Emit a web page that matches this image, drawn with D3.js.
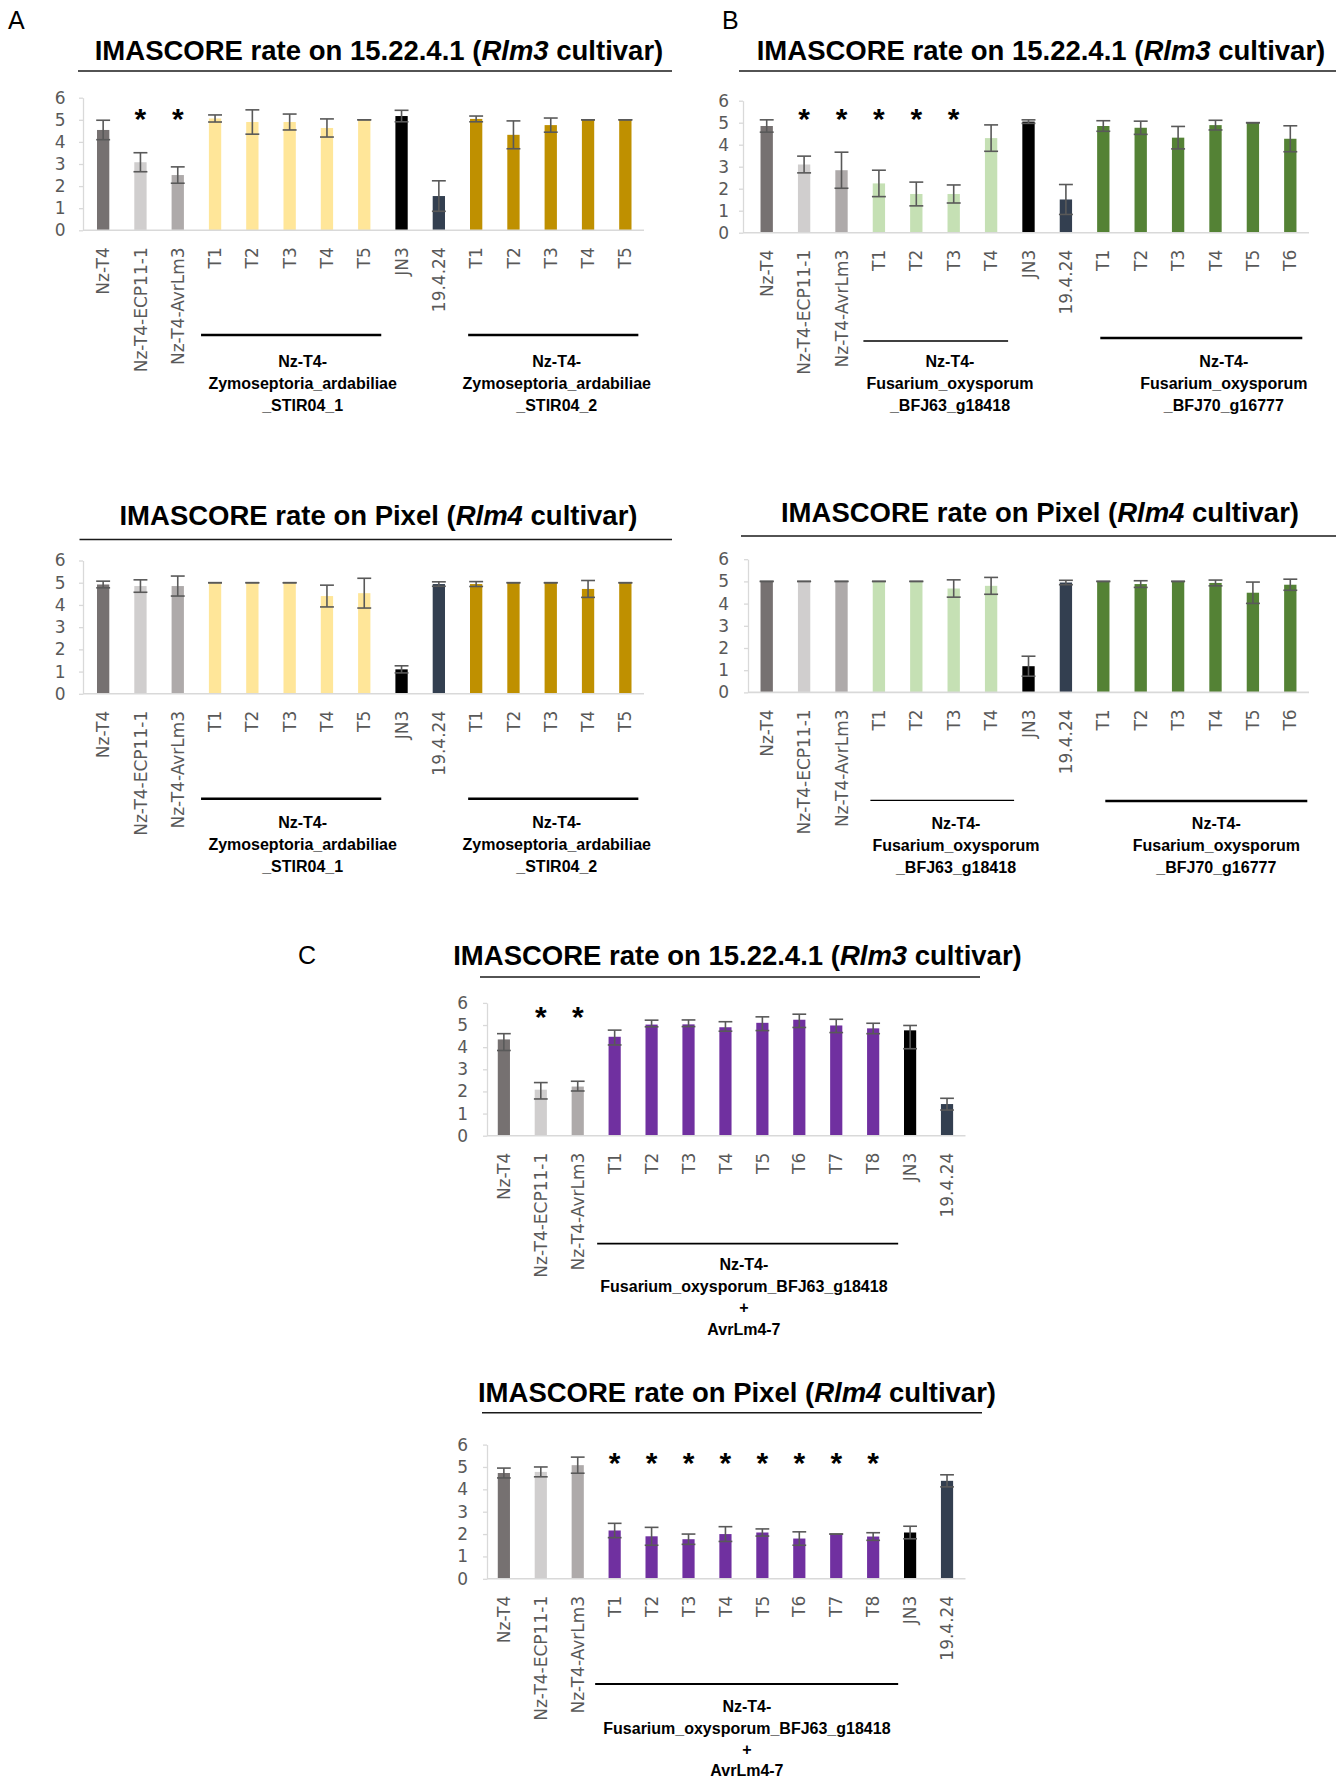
<!DOCTYPE html>
<html lang="en">
<head>
<meta charset="UTF-8">
<title>IMASCORE rates</title>
<script src="https://cdn.jsdelivr.net/npm/d3@7"></script>
<style>
    body{ margin:0; background:white; }
    svg text{ font-family:"DejaVu Sans", sans-serif; }
</style>
</head>
<body>
<svg id="fig"></svg>
<script>
const w = 1336, h = 1781;

// ---- categories ----
const catZ = ["Nz-T4","Nz-T4-ECP11-1","Nz-T4-AvrLm3","T1","T2","T3","T4","T5","JN3","19.4.24","T1","T2","T3","T4","T5"];
const kindZ = ["nz","ecp","avr","zym1","zym1","zym1","zym1","zym1","jn3","ref","zym2","zym2","zym2","zym2","zym2"];
const catF = ["Nz-T4","Nz-T4-ECP11-1","Nz-T4-AvrLm3","T1","T2","T3","T4","JN3","19.4.24","T1","T2","T3","T4","T5","T6"];
const kindF = ["nz","ecp","avr","fus1","fus1","fus1","fus1","jn3","ref","fus2","fus2","fus2","fus2","fus2","fus2"];
const catC = ["Nz-T4","Nz-T4-ECP11-1","Nz-T4-AvrLm3","T1","T2","T3","T4","T5","T6","T7","T8","JN3","19.4.24"];
const kindC = ["nz","ecp","avr","fusAvr","fusAvr","fusAvr","fusAvr","fusAvr","fusAvr","fusAvr","fusAvr","jn3","ref"];

// ---- A : Zymoseptoria ----
const valZ3 = [4.54, 3.08, 2.50, 5.06, 4.90, 4.90, 4.63, 5.00, 5.17, 1.55, 5.04, 4.32, 4.76, 5.00, 5.00];
const errZ3 = [0.44, 0.43, 0.37, 0.16, 0.55, 0.36, 0.41, 0.00, 0.26, 0.69, 0.13, 0.63, 0.32, 0.00, 0.00];
const sigZ3 = [0,1,1,0,0,0,0,0,0,0,0,0,0,0,0];
const valZ4 = [4.92, 4.85, 4.85, 5.00, 5.00, 5.00, 4.40, 4.53, 1.10, 4.94, 4.94, 5.00, 5.00, 4.72, 5.00];
const errZ4 = [0.15, 0.28, 0.45, 0.00, 0.00, 0.00, 0.49, 0.67, 0.16, 0.10, 0.11, 0.00, 0.00, 0.38, 0.00];
const sigZ4 = [0,0,0,0,0,0,0,0,0,0,0,0,0,0,0];

// ---- B : Fusarium ----
const valF3 = [4.85, 3.10, 2.84, 2.24, 1.76, 1.76, 4.30, 5.05, 1.51, 4.85, 4.77, 4.32, 4.89, 5.00, 4.27];
const errF3 = [0.28, 0.38, 0.82, 0.60, 0.54, 0.41, 0.60, 0.08, 0.68, 0.24, 0.30, 0.51, 0.22, 0.00, 0.59];
const sigF3 = [0,1,1,1,1,1,0,0,0,0,0,0,0,0,0];
const valF4 = [5.00, 5.00, 5.00, 5.00, 5.00, 4.68, 4.80, 1.18, 4.95, 5.00, 4.88, 5.00, 4.93, 4.49, 4.85];
const errF4 = [0.00, 0.00, 0.00, 0.00, 0.00, 0.39, 0.38, 0.45, 0.10, 0.00, 0.15, 0.00, 0.13, 0.48, 0.25];
const sigF4 = [0,0,0,0,0,0,0,0,0,0,0,0,0,0,0];

// ---- C : Fusarium + AvrLm4-7 ----
const valC3 = [4.35, 2.08, 2.22, 4.47, 5.02, 5.03, 4.90, 5.10, 5.24, 4.98, 4.85, 4.76, 1.43];
const errC3 = [0.26, 0.32, 0.24, 0.30, 0.20, 0.20, 0.25, 0.27, 0.25, 0.28, 0.23, 0.22, 0.26];
const errLoC3 = [0.50, 0.42, 0.20, 0.37, 0.10, 0.10, 0.18, 0.35, 0.35, 0.32, 0.24, 0.83, 0.27];
const sigC3 = [0,1,1,0,0,0,0,0,0,0,0,0,0];
const valC4 = [4.73, 4.78, 5.08, 2.16, 1.90, 1.77, 2.00, 2.07, 1.80, 2.00, 1.89, 2.07, 4.38];
const errC4 = [0.22, 0.22, 0.36, 0.32, 0.40, 0.23, 0.33, 0.16, 0.30, 0.00, 0.17, 0.28, 0.27];
const sigC4 = [0,0,0,1,1,1,1,1,1,1,1,0,0];

const yTicks = [0,1,2,3,4,5,6];

// group captions
const grpZ1 = ["Nz-T4-","Zymoseptoria_ardabiliae","_STIR04_1"];
const grpZ2 = ["Nz-T4-","Zymoseptoria_ardabiliae","_STIR04_2"];
const grpF1 = ["Nz-T4-","Fusarium_oxysporum","_BFJ63_g18418"];
const grpF2 = ["Nz-T4-","Fusarium_oxysporum","_BFJ70_g16777"];
const grpC  = ["Nz-T4-","Fusarium_oxysporum_BFJ63_g18418","+","AvrLm4-7"];

const couleur = d3.scaleOrdinal()
    .domain(["nz","ecp","avr","zym1","zym2","jn3","ref","fus1","fus2","fusAvr"])
    .range(["#767171","#d0cece","#aeaaaa","#ffe699","#bf9000","#000000","#333f50","#c5e0b4","#548235","#7030a0"]);

const svg = d3.select('#fig').attr('width', w).attr('height', h);
svg.append('rect').attr('width', w).attr('height', h).attr('fill', 'white');

// panel letters
[["A",8,28.5],["B",722,28.5],["C",298,963.5]].forEach(function(l){
    svg.append('text').attr('x', l[1]).attr('y', l[2])
        .style('font-family','"Liberation Sans", Arial, sans-serif')
        .attr('font-size', 25).attr('fill', '#000').text(l[0]);
});

const panels = [
    {host:"15.22.4.1", cv:"Rlm3", tx:379, ty:60, ul:[78,672], uly:71,
     cats:catZ, kinds:kindZ, vals:valZ3, errs:errZ3, sig:sigZ3, starV:5.34,
     axisX:83, x0:84.5, step:37.3, y0:230.3, y6:97.7, tickR:65.5, txtOff:137, lh:21.7,
     groups:[{from:3,to:7,padL:14,padR:17,dx:13,lw:2.5,ly:104.7,lines:grpZ1},
             {from:10,to:14,padL:8,padR:13,dx:6,lw:2.5,ly:104.7,lines:grpZ2}]},
    {host:"Pixel", cv:"Rlm4", tx:378.5, ty:524.6, ul:[79.5,672], uly:539.5,
     cats:catZ, kinds:kindZ, vals:valZ4, errs:errZ4, sig:sigZ4, starV:5.34,
     axisX:83, x0:84.5, step:37.3, y0:693.8, y6:560.5, tickR:65.5, txtOff:134.5, lh:21.7,
     groups:[{from:3,to:7,padL:14,padR:17,dx:13,lw:2.5,ly:105,lines:grpZ1},
             {from:10,to:14,padL:8,padR:13,dx:6,lw:2.5,ly:105,lines:grpZ2}]},
    {host:"15.22.4.1", cv:"Rlm3", tx:1041, ty:60, ul:[739,1336], uly:71,
     cats:catF, kinds:kindF, vals:valF3, errs:errF3, sig:sigF3, starV:5.47,
     axisX:743, x0:748, step:37.4, y0:232.7, y6:100.7, tickR:729, txtOff:134.5, lh:21.7,
     groups:[{from:3,to:6,padL:15.5,padR:17,dx:15,lw:1.3,ly:108.3,lines:grpF1},
             {from:9,to:14,padL:3,padR:12,dx:27,lw:2.5,ly:105.3,lines:grpF2}]},
    {host:"Pixel", cv:"Rlm4", tx:1040, ty:522, ul:[741,1336], uly:536,
     cats:catF, kinds:kindF, vals:valF4, errs:errF4, sig:sigF4, starV:5.47,
     axisX:748, x0:748, step:37.4, y0:692.4, y6:559.2, tickR:729, txtOff:137, lh:21.7,
     groups:[{from:3,to:6,padL:8.5,padR:23,dx:21,lw:1.3,ly:108,lines:grpF1},
             {from:9,to:14,padL:-2,padR:17,dx:19.5,lw:2.5,ly:108.6,lines:grpF2}]},
    {host:"15.22.4.1", cv:"Rlm3", tx:737.5, ty:964.6, ul:[480,980], uly:977,
     cats:catC, kinds:kindC, vals:valC3, errs:errC3, errLo:errLoC3, sig:sigC3, starV:5.68,
     axisX:487, x0:485.4, step:36.93, y0:1135.7, y6:1002.9, tickR:468, txtOff:134.3, lh:21.7,
     groups:[{from:3,to:10,padL:17.5,padR:25,dx:0,lw:1.8,ly:108,lines:grpC}]},
    {host:"Pixel", cv:"Rlm4", tx:737, ty:1402, ul:[482,982], uly:1412.7,
     cats:catC, kinds:kindC, vals:valC4, errs:errC4, sig:sigC4, starV:5.5,
     axisX:487, x0:485.4, step:36.93, y0:1578.8, y6:1444.6, tickR:468, txtOff:133.5, lh:21.2,
     groups:[{from:3,to:10,padL:19.5,padR:25,dx:3,lw:1.8,ly:105.2,lines:grpC}]}
];

function dessinePanel(p){
    const g = svg.append('g');
    const n = p.cats.length;
    const x = d3.scaleBand().domain(d3.range(n))
        .range([p.x0, p.x0 + n * p.step]).paddingInner(0.67).paddingOuter(0.335);
    const y = d3.scaleLinear().domain([0, 6]).range([p.y0, p.y6]);
    const bw = x.bandwidth();
    const cx = i => x(i) + bw / 2;

    // title
    const t = g.append('text').attr('x', p.tx).attr('y', p.ty).attr('text-anchor', 'middle')
        .style('font-family', '"Liberation Sans", Arial, sans-serif')
        .attr('font-weight', 'bold').attr('font-size', 27.5).attr('fill', '#000');
    t.append('tspan').text("IMASCORE rate on " + p.host + " (");
    t.append('tspan').attr('font-style', 'italic').text(p.cv);
    t.append('tspan').text(" cultivar)");
    g.append('line').attr('x1', p.ul[0]).attr('x2', p.ul[1])
        .attr('y1', p.uly).attr('y2', p.uly).attr('stroke', '#1a1a1a').attr('stroke-width', 1.4);

    // y axis
    const ax = g.append('g').attr('transform', 'translate(' + p.axisX + ',0)')
        .call(d3.axisLeft(y).tickValues(yTicks).tickFormat(d3.format('d'))
            .tickSize(4).tickSizeOuter(0).tickPadding(p.axisX - 4 - p.tickR));
    ax.select('.domain').attr('stroke', '#d9d9d9').attr('stroke-width', 1.3);
    ax.selectAll('.tick line').attr('stroke', '#d9d9d9').attr('stroke-width', 1.3);
    ax.selectAll('.tick text').attr('font-size', 17).attr('fill', '#595959')
        .style('font-family', '"DejaVu Sans", sans-serif');

    // bars
    g.selectAll('rect.bar').data(p.vals).join('rect').attr('class', 'bar')
        .attr('x', (d, i) => x(i)).attr('y', d => y(d))
        .attr('width', bw).attr('height', d => p.y0 - y(d))
        .attr('fill', (d, i) => couleur(p.kinds[i]));

    // baseline
    g.append('line').attr('x1', p.axisX).attr('x2', p.x0 + n * p.step)
        .attr('y1', p.y0).attr('y2', p.y0).attr('stroke', '#d9d9d9').attr('stroke-width', 1.6);

    // error bars
    const eb = g.selectAll('g.err').data(p.vals).join('g').attr('class', 'err')
        .attr('stroke', '#595959').attr('stroke-width', 1.6);
    const hi = (d, i) => y(d + p.errs[i]);
    const lo = (d, i) => y(d - (p.errLo ? p.errLo[i] : p.errs[i]));
    eb.append('line').attr('x1', (d, i) => cx(i)).attr('x2', (d, i) => cx(i)).attr('y1', hi).attr('y2', lo);
    eb.append('line').attr('x1', (d, i) => cx(i) - bw / 2 - 0.8).attr('x2', (d, i) => cx(i) + bw / 2 + 0.8)
        .attr('y1', hi).attr('y2', hi);
    eb.append('line').attr('x1', (d, i) => cx(i) - bw / 2 - 0.8).attr('x2', (d, i) => cx(i) + bw / 2 + 0.8)
        .attr('y1', lo).attr('y2', lo);

    // significance stars
    g.selectAll('text.star').data(d3.range(n).filter(i => p.sig[i])).join('text').attr('class', 'star')
        .attr('x', i => cx(i)).attr('y', y(p.starV) + 17)
        .attr('text-anchor', 'middle').attr('font-size', 30).attr('font-weight', 'bold')
        .style('font-family', '"Liberation Sans", Arial, sans-serif').text('*');

    // category labels
    g.selectAll('text.cat').data(p.cats).join('text').attr('class', 'cat')
        .attr('transform', (d, i) => 'translate(' + cx(i) + ',' + (p.y0 + 17) + ') rotate(-90)')
        .attr('text-anchor', 'end').attr('dy', '0.36em')
        .attr('font-size', 17).attr('fill', '#595959').text(d => d);

    // groups
    p.groups.forEach(function(gr){
        const xa = cx(gr.from) - gr.padL, xb = cx(gr.to) + gr.padR;
        g.append('line').attr('x1', xa).attr('x2', xb)
            .attr('y1', p.y0 + gr.ly).attr('y2', p.y0 + gr.ly)
            .attr('stroke', '#000').attr('stroke-width', gr.lw);
        const mid = (cx(gr.from) + cx(gr.to)) / 2 + gr.dx;
        g.selectAll(null).data(gr.lines).join('text')
            .attr('x', mid).attr('y', (d, k) => p.y0 + p.txtOff + k * p.lh)
            .attr('text-anchor', 'middle').attr('font-size', 16).attr('font-weight', 'bold')
            .style('font-family', '"Liberation Sans", Arial, sans-serif')
            .attr('fill', '#000').text(d => d);
    });
}

panels.forEach(dessinePanel);
</script>
</body>
</html>
